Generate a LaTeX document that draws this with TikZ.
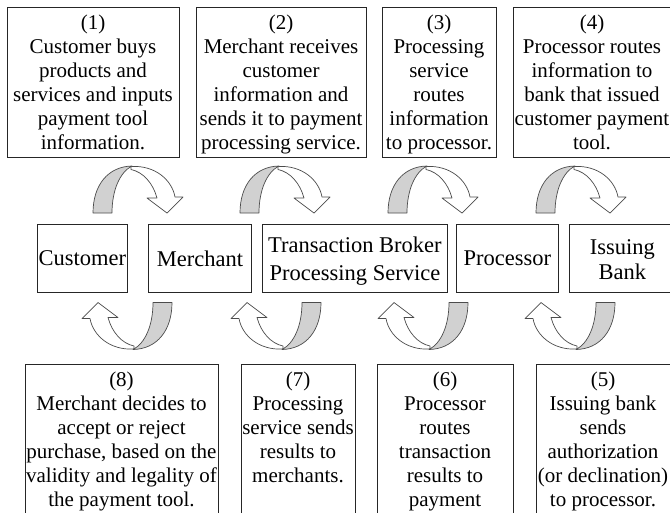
\documentclass[tikz,border=0pt]{standalone}
\usepackage{fontspec}
\setmainfont{Liberation Serif}
\begin{document}
\begin{tikzpicture}[x=1pt,y=-1pt,
  box/.style={draw=black!85, line width=0.9pt, inner sep=0pt, anchor=north west},
  txt/.style={font=\fontsize{21}{24}\selectfont, align=center, inner sep=0pt, anchor=north},
  mid/.style={font=\fontsize{22.5}{28}\selectfont, align=center},
  ribbon/.style={draw=black!70, line width=0.7pt, line join=round},
  twist/.pic={
    % white front of the ribbon ending in the arrow head
    \path[ribbon, fill=white] (-7,-23) .. controls (17,-24.5) and (34,-9.5) .. (37,7.5)
      -- (45,7.5) -- (29,23.5) -- (9,8.5) -- (19,8.5)
      .. controls (15,-6.5) and (5,-17.5) .. (-7,-20) -- cycle;
    % shaded back of the ribbon
    \path[ribbon, fill=black!18] (-45,23.5) .. controls (-45,-4.5) and (-30,-23) .. (-6,-23.5)
      .. controls (-18,-17.5) and (-26,0.5) .. (-26,23.5) -- cycle;
  }]
\useasboundingbox (0,0) rectangle (670,512);

% top row of step boxes
\node[box, minimum width=172, minimum height=150] (b1) at (7,7) {};
\node[box, minimum width=170, minimum height=150] (b2) at (196,7) {};
\node[box, minimum width=114, minimum height=150] (b3) at (382,7) {};
\node[box, minimum width=165, minimum height=150] (b4) at (513,7) {};
\node[txt] (t1) at (93,14.5) {(1)\\Customer buys\\products and\\services and inputs\\payment tool\\information.};
\node[txt] (t2) at (281,14.5) {(2)\\Merchant receives\\customer\\information and\\sends it to payment\\processing service.};
\node[txt] (t3) at (439,14.5) {(3)\\Processing\\service\\routes\\information\\to processor.};
\node[txt] (t4) at (592,14.5) {(4)\\Processor routes\\information to\\bank that issued\\customer payment\\tool.};

% participants
\node[box, mid, minimum width=90, minimum height=68] (cust) at (37,224) {Customer};
\node[box, mid, minimum width=103, minimum height=68] (merch) at (148,224) {Merchant};
\node[box, minimum width=185, minimum height=68] (tbps) at (262,224) {};
\node[mid, inner sep=0pt] (tbpst) at ([yshift=-3pt]tbps.center) {Transaction Broker\\Processing Service};
\node[box, mid, minimum width=102, minimum height=68] (proc) at (456,224) {Processor};
\node[box, minimum width=106, minimum height=68] (bank) at (569,224) {};
\node[mid, inner sep=0pt, font=\fontsize{22.5}{25}\selectfont] (bankt) at ([yshift=-1pt]bank.center) {Issuing\\Bank};

% bottom row of step boxes
\node[box, minimum width=193, minimum height=160] (b8) at (25,364) {};
\node[box, minimum width=114, minimum height=160] (b7) at (241,364) {};
\node[box, minimum width=136, minimum height=160] (b6) at (377,364) {};
\node[box, minimum width=150, minimum height=160] (b5) at (536,364) {};
\node[txt] (t8) at (121.5,372) {(8)\\Merchant decides to\\accept or reject\\purchase, based on the\\validity and legality of\\the payment tool.};
\node[txt] (t7) at (298,372) {(7)\\Processing\\service sends\\results to\\merchants.};
\node[txt] (t6) at (445,372) {(6)\\Processor\\routes\\transaction\\results to\\payment};
\node[txt] (t5) at (603,372) {(5)\\Issuing bank\\sends\\authorization\\(or declination)\\to processor.};

% forward flow arrows
\pic at (138,189.5) {twist};
\pic at (285,189.5) {twist};
\pic at (433,189.5) {twist};
\pic at (581,189.5) {twist};

% return flow arrows
\pic[rotate=180] at (127,326) {twist};
\pic[rotate=180] at (276,326) {twist};
\pic[rotate=180] at (423,326) {twist};
\pic[rotate=180] at (570,326) {twist};
\end{tikzpicture}
\end{document}
